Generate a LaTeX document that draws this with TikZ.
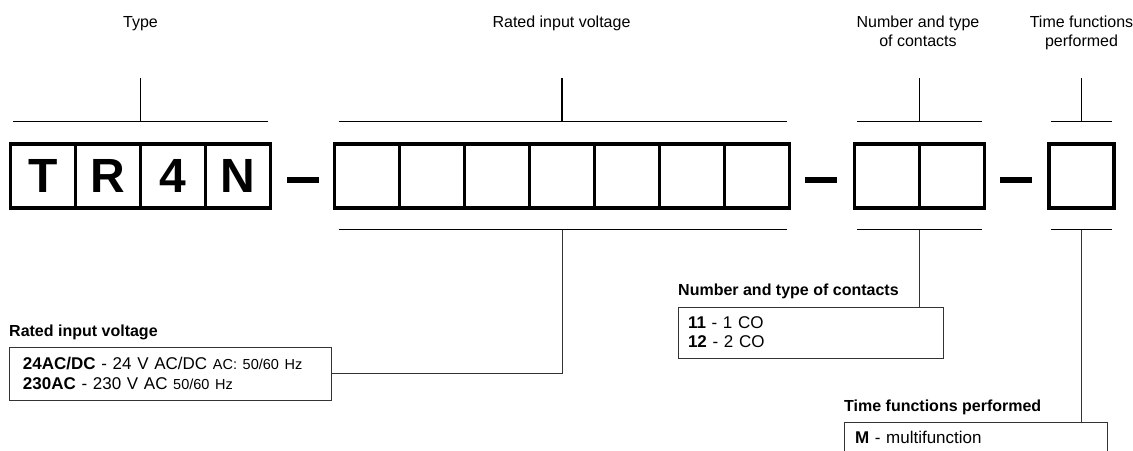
\documentclass[tikz,border=0pt]{standalone}
\usepackage{fontspec}
\setmainfont{Liberation Sans}
\usetikzlibrary{positioning,calc}
\tikzset{
  cell/.style={draw, line width=3.2pt, outer sep=0pt, inner sep=0pt, minimum width=65pt, minimum height=64pt, font=\bfseries\fontsize{48}{48}\selectfont},
  dash bar/.style={fill=black, inner sep=0pt, minimum width=32pt, minimum height=6.5pt},
  bracket/.style={line width=1.3pt},
  head label/.style={align=center, anchor=north, inner sep=0pt, font=\fontsize{16}{19}\selectfont},
  lead/.style={draw=black!80, line width=1pt},
  info box/.style={draw=black!80, line width=1pt, outer sep=0pt, anchor=north west, align=left, font=\fontsize{17}{20}\selectfont},
  info title/.style={anchor=base west, inner sep=0pt, font=\bfseries\fontsize{16}{16}\selectfont},
  small hz/.style={},
}
\newcommand{\smallhz}[1]{{\fontsize{14.5}{20}\selectfont #1}}

\begin{document}
\begin{tikzpicture}[x=1pt,y=-1pt]
\useasboundingbox (0,0) rectangle (1133,450);
\clip (0,0) rectangle (1133,450);
% the code cells
\node [cell] (t1) at (43,176) {T};
\node [cell, right=0pt of t1] (t2) {R};
\node [cell, right=0pt of t2] (t3) {4};
\node [cell, right=0pt of t3] (t4) {N};
\node [dash bar] (d1) at (303,180) {};
\node [cell] (v1) at (367,176) {};
\foreach \i [count=\j from 2] in {1,...,6}
  \node [cell, right=0pt of v\i] (v\j) {};
\node [dash bar] (d2) at (821,180) {};
\node [cell] (c1) at (887,176) {};
\node [cell, right=0pt of c1] (c2) {};
\node [dash bar] (d3) at (1015.5,180) {};
\node [cell] (f1) at (1081.5,176) {};
% the headings
\node [head label] (typelabel) at (140.5,16) {Type};
\node [head label] (voltlabel) at (561.5,16) {Rated input voltage};
\node [head label] (contlabel) at (918,16) {Number and type\\of contacts};
\node [head label] (funclabel) at (1081.5,16) {Time functions\\performed};
% the key boxes
\node [info box, text width=294pt, inner xsep=14pt, minimum height=53pt] (voltbox) at (9,347)
  {\textbf{24AC/DC} - 24 V AC/DC \smallhz{AC: 50/60 Hz}\\\textbf{230AC} - 230 V AC \smallhz{50/60 Hz}};
\node [info title] (volttitle) at ([yshift=11pt]voltbox.north west) {Rated input voltage};
\node [info box, text width=245pt, inner xsep=10pt, minimum height=51pt, font=\fontsize{17}{19}\selectfont] (contbox) at (678,307)
  {\textbf{11} - 1 CO\\\textbf{12} - 2 CO};
\node [info title] (conttitle) at ([yshift=12pt]contbox.north west) {Number and type of contacts};
\node [info box, text width=241pt, inner xsep=11pt, inner ysep=9pt] (funcbox) at (844,422)
  {\textbf{M} - multifunction};
\node [info title] (functitle) at ([yshift=11pt]funcbox.north west) {Time functions performed};
% bracket points
\coordinate (typeup) at ($(t1.north west)!0.5!(t4.north east)+(0pt,22.5pt)$);
\coordinate (voltup) at ($(v1.north west)!0.5!(v7.north east)+(0pt,22.5pt)$);
\coordinate (contup) at ($(c1.north west)!0.5!(c2.north east)+(0pt,22.5pt)$);
\coordinate (funcup) at ($(f1.north west)!0.5!(f1.north east)+(0pt,22.5pt)$);
\coordinate (voltlow) at ($(v1.south west)!0.5!(v7.south east)+(0pt,-21.5pt)$);
\coordinate (contlow) at ($(c1.south west)!0.5!(c2.south east)+(0pt,-21.5pt)$);
\coordinate (funclow) at ($(f1.south west)!0.5!(f1.south east)+(0pt,-21.5pt)$);
%drawings of brackets
\draw[bracket] ([shift={(2.5pt,22.5pt)}]t1.north west) -- ([shift={(-2.5pt,22.5pt)}]t4.north east);
\draw[bracket] (typeup) -- +(0pt,44pt);
\draw[bracket] ([shift={(4pt,22.5pt)}]v1.north west) -- ([shift={(-2.5pt,22.5pt)}]v7.north east);
\draw[bracket] (voltup) -- +(0pt,44pt);
\draw[bracket] ([shift={(2.5pt,22.5pt)}]c1.north west) -- ([shift={(-2.5pt,22.5pt)}]c2.north east);
\draw[bracket] (contup) -- +(0pt,44pt);
\draw[bracket] ([shift={(2pt,22.5pt)}]f1.north west) -- ([shift={(-2pt,22.5pt)}]f1.north east);
\draw[bracket] (funcup) -- +(0pt,44pt);
\draw[bracket] ([shift={(4pt,-21.5pt)}]v1.south west) -- ([shift={(-2.5pt,-21.5pt)}]v7.south east);
\draw[bracket] ([shift={(2.5pt,-21.5pt)}]c1.south west) -- ([shift={(-2.5pt,-21.5pt)}]c2.south east);
\draw[bracket] ([shift={(2pt,-21.5pt)}]f1.south west) -- ([shift={(-2pt,-21.5pt)}]f1.south east);
%drawings of leads
\draw[lead] (voltlow) |- (voltbox.east);
\draw[lead] (contlow) -- (contlow |- contbox.north);
\draw[lead] (funclow) -- (funclow |- funcbox.north);
\end{tikzpicture}
\end{document}
